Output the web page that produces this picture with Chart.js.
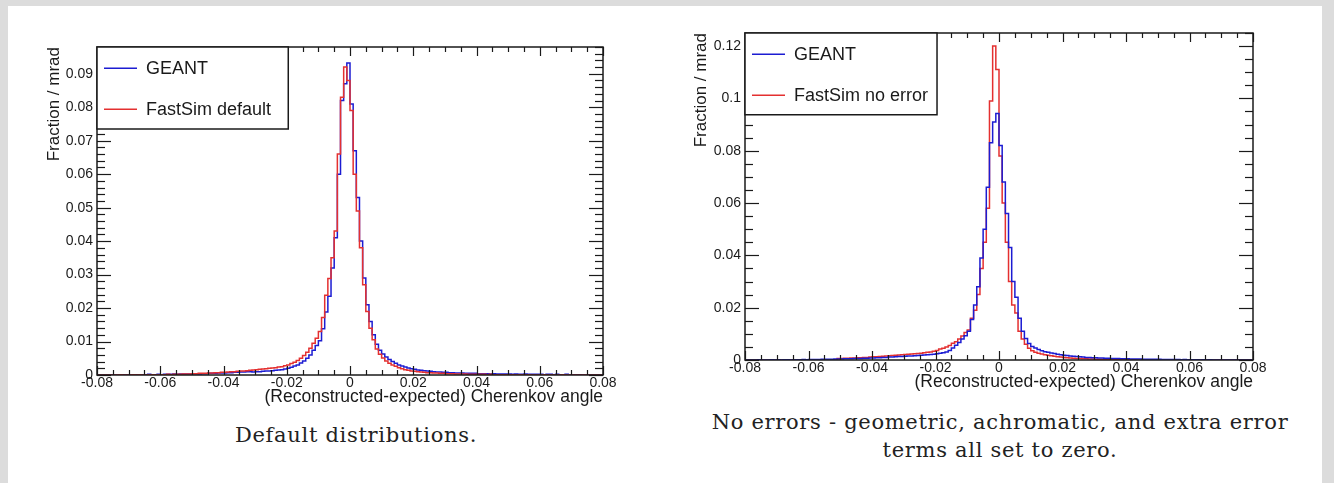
<!DOCTYPE html>
<html lang="en">
<head>
    <meta charset="UTF-8">
    <title>Cherenkov angle resolution: GEANT vs FastSim</title>
    <script src="https://cdn.jsdelivr.net/npm/chart.js"></script>
    <style>
        body {
            margin: 0;
            background: #dcdcdc;
            font-family: "Liberation Sans", Arial, sans-serif;
        }
        #page {
            position: absolute;
            left: 8px;
            top: 6px;
            width: 1314px;
            height: 477px;
            background: #fff;
        }
        canvas {
            position: absolute;
        }
        .caption {
            position: absolute;
            font-family: "DejaVu Serif", "Liberation Serif", serif;
            font-size: 21px;
            letter-spacing: 0.7px;
            color: #222;
            text-align: center;
            line-height: 28px;
            white-space: nowrap;
        }
    </style>
</head>
<body>
    <div id="page"></div>
    <canvas id="chartDefault" width="590" height="390" style="left:40px; top:30px;"></canvas>
    <canvas id="chartNoError" width="590" height="387" style="left:690px; top:18px;"></canvas>

    <div class="caption" style="left:206px; top:421px; width:300px;">Default distributions.</div>
    <div class="caption" style="left:700px; top:408px; width:600px;">No errors - geometric, achromatic, and extra error<br>terms all set to zero.</div>

    <script>
        // histogram binning: 160 bins of 0.001 from -0.08 to 0.08
        const xMin = -0.08;
        const binWidth = 0.001;

        // left pad: default distributions
        const geantDefault = [
            0, 0, 0, 0, 0, 0, 0.0001, 0, 0, 0.0001,
            0.0001, 0, 0.0001, 0.0001, 0, 0.0001, 0.0001, 0.0002, 0.0001, 0.0001,
            0.0002, 0.0001, 0.0002, 0.0002, 0.0002, 0.0003, 0.0002, 0.0003, 0.0003, 0.0003,
            0.0003, 0.0004, 0.0004, 0.0003, 0.0004, 0.0004, 0.0005, 0.0005, 0.0005, 0.0006,
            0.0006, 0.0006, 0.0007, 0.0007, 0.0008, 0.0008, 0.0009, 0.0009, 0.001, 0.001,
            0.0009, 0.001, 0.001, 0.0011, 0.0012, 0.0012, 0.0013, 0.0014, 0.0015, 0.0016,
            0.0018, 0.002, 0.0023, 0.0027, 0.003, 0.0036, 0.0042, 0.005, 0.006, 0.0074,
            0.0088, 0.0102, 0.0138, 0.0188, 0.0235, 0.032, 0.041, 0.060, 0.082, 0.087,
            0.0932, 0.081, 0.067, 0.053, 0.040, 0.029, 0.021, 0.016, 0.012, 0.0092,
            0.0074, 0.0063, 0.0054, 0.0046, 0.004, 0.0035, 0.003, 0.0027, 0.0024, 0.0021,
            0.0019, 0.0017, 0.0015, 0.0014, 0.0013, 0.0012, 0.0011, 0.001, 0.0009, 0.0009,
            0.0008, 0.0008, 0.0007, 0.0007, 0.0006, 0.0006, 0.0006, 0.0005, 0.0005, 0.0005,
            0.0005, 0.0004, 0.0004, 0.0004, 0.0004, 0.0003, 0.0004, 0.0003, 0.0003, 0.0003,
            0.0003, 0.0003, 0.0002, 0.0003, 0.0002, 0.0002, 0.0003, 0.0002, 0.0002, 0.0002,
            0.0002, 0.0002, 0.0001, 0.0002, 0.0002, 0.0001, 0.0002, 0.0001, 0.0001, 0.0002,
            0.0001, 0, 0.0001, 0.0001, 0, 0, 0.0001, 0, 0, 0
        ];
        const fastSimDefault = [
            0, 0, 0, 0, 0, 0, 0, 0, 0.0001, 0,
            0, 0, 0.0001, 0, 0.0001, 0, 0, 0.0001, 0.0001, 0,
            0.0001, 0.0001, 0.0001, 0.0002, 0.0001, 0.0002, 0.0002, 0.0002, 0.0003, 0.0003,
            0.0003, 0.0004, 0.0004, 0.0005, 0.0005, 0.0005, 0.0006, 0.0006, 0.0007, 0.0007,
            0.0008, 0.0008, 0.0009, 0.001, 0.001, 0.0011, 0.0012, 0.0012, 0.0013, 0.0014,
            0.0015, 0.0016, 0.0017, 0.0018, 0.0019, 0.002, 0.0021, 0.0022, 0.0024, 0.0025,
            0.0028, 0.003, 0.0034, 0.0038, 0.0043, 0.005, 0.0058, 0.0068, 0.008, 0.0095,
            0.011, 0.013, 0.0172, 0.0238, 0.0288, 0.035, 0.043, 0.066, 0.083, 0.092,
            0.088, 0.079, 0.060, 0.049, 0.038, 0.027, 0.019, 0.014, 0.0105, 0.0078,
            0.0062, 0.0051, 0.0042, 0.0035, 0.003, 0.0026, 0.0022, 0.0019, 0.0016, 0.0014,
            0.0012, 0.0011, 0.001, 0.0009, 0.0008, 0.0007, 0.0007, 0.0006, 0.0006, 0.0005,
            0.0005, 0.0004, 0.0004, 0.0004, 0.0003, 0.0003, 0.0003, 0.0003, 0.0002, 0.0002,
            0.0002, 0.0002, 0.0002, 0.0002, 0.0001, 0.0002, 0.0001, 0.0001, 0.0001, 0.0001,
            0.0001, 0.0001, 0.0001, 0, 0.0001, 0.0001, 0, 0.0001, 0, 0,
            0, 0, 0.0001, 0, 0, 0, 0, 0, 0.0001, 0,
            0, 0, 0, 0, 0, 0, 0, 0, 0, 0
        ];

        // right pad: all error terms set to zero
        const geantNoError = [
            0, 0, 0, 0, 0, 0.0001, 0, 0, 0, 0.0001,
            0, 0.0001, 0, 0.0001, 0.0001, 0, 0.0001, 0.0001, 0.0001, 0.0002,
            0.0001, 0.0002, 0.0002, 0.0002, 0.0002, 0.0003, 0.0003, 0.0003, 0.0003, 0.0004,
            0.0004, 0.0004, 0.0005, 0.0005, 0.0005, 0.0006, 0.0006, 0.0006, 0.0007, 0.0007,
            0.0008, 0.0008, 0.0009, 0.0009, 0.001, 0.001, 0.0011, 0.0011, 0.0012, 0.0013,
            0.0013, 0.0014, 0.0015, 0.0015, 0.0016, 0.0017, 0.0018, 0.0019, 0.002, 0.0021,
            0.0022, 0.0024, 0.0026, 0.0028, 0.0031, 0.0036, 0.0046, 0.0056, 0.0067, 0.008,
            0.0093, 0.011, 0.0155, 0.021, 0.028, 0.039, 0.050, 0.066, 0.083, 0.091,
            0.0942, 0.082, 0.068, 0.056, 0.043, 0.030, 0.024, 0.016, 0.011, 0.0082,
            0.0063, 0.0052, 0.0046, 0.004, 0.0035, 0.0032, 0.003, 0.0027, 0.0025, 0.0022,
            0.002, 0.0018, 0.0017, 0.0015, 0.0014, 0.0013, 0.0012, 0.0011, 0.001, 0.001,
            0.0009, 0.0009, 0.0008, 0.0008, 0.0007, 0.0007, 0.0006, 0.0006, 0.0006, 0.0005,
            0.0005, 0.0005, 0.0004, 0.0004, 0.0004, 0.0004, 0.0003, 0.0003, 0.0003, 0.0003,
            0.0003, 0.0003, 0.0002, 0.0002, 0.0002, 0.0002, 0.0002, 0.0002, 0.0001, 0.0002,
            0.0001, 0.0001, 0.0001, 0.0001, 0, 0.0001, 0, 0.0001, 0, 0,
            0, 0, 0, 0, 0, 0, 0, 0, 0, 0
        ];
        const fastSimNoError = [
            0, 0, 0, 0, 0, 0, 0, 0, 0, 0,
            0, 0, 0, 0, 0, 0, 0, 0, 0, 0,
            0, 0, 0, 0, 0, 0, 0, 0, 0, 0,
            0.0006, 0.0006, 0.0007, 0.0007, 0.0008, 0.0008, 0.0009, 0.0009, 0.001, 0.001,
            0.0011, 0.0012, 0.0012, 0.0013, 0.0014, 0.0015, 0.0016, 0.0017, 0.0018, 0.0019,
            0.002, 0.0021, 0.0022, 0.0023, 0.0024, 0.0025, 0.0026, 0.0028, 0.003, 0.0031,
            0.0033, 0.0036, 0.0042, 0.0045, 0.005, 0.0055, 0.0064, 0.007, 0.008, 0.0092,
            0.0105, 0.0115, 0.016, 0.019, 0.025, 0.035, 0.045, 0.058, 0.099, 0.120,
            0.111, 0.078, 0.060, 0.045, 0.030, 0.021, 0.018, 0.011, 0.008, 0.006,
            0.0045, 0.0035, 0.003, 0.0026, 0.0023, 0.002, 0.0018, 0.0016, 0.0014, 0.0012,
            0.0011, 0.001, 0.0009, 0.0008, 0.0007, 0.0006, 0.0006, 0.0005, 0.0005, 0.0004,
            0.0004, 0.0003, 0.0003, 0.0003, 0.0002, 0.0002, 0.0002, 0.0001, 0.0001, 0.0001,
            0.0001, 0.0001, 0, 0.0001, 0, 0, 0, 0, 0, 0,
            0, 0, 0, 0, 0, 0, 0, 0, 0, 0,
            0, 0, 0, 0, 0, 0, 0, 0, 0, 0,
            0, 0, 0, 0, 0, 0, 0, 0, 0, 0
        ];

        const blue = 'rgb(28, 28, 210)';
        const red = 'rgb(228, 48, 48)';
        const ink = '#1a1a1a';
        const sans = '"Liberation Sans", Arial, sans-serif';
        const tickFont = { family: sans, size: 14 };

        // histogram -> step points at the bin edges
        function toSteps(values) {
            const pts = values.map((v, i) => ({ x: xMin + i * binWidth, y: v }));
            pts.push({ x: xMin + values.length * binWidth, y: values[values.length - 1] });
            return pts;
        }

        function fmt(v) {
            return String(+v.toFixed(3));
        }

        // ROOT style frame: ticks inside on all four sides, plus the boxed legend
        const rootFrame = {
            id: 'rootFrame',
            afterDraw(chart, args, opts) {
                const { ctx, chartArea: a, scales: { x, y } } = chart;
                ctx.save();
                ctx.strokeStyle = ink;
                ctx.lineWidth = 1.2;

                const line = (x1, y1, x2, y2) => {
                    ctx.beginPath();
                    ctx.moveTo(x1, y1);
                    ctx.lineTo(x2, y2);
                    ctx.stroke();
                };

                let n = Math.round((x.max - x.min) / opts.xMinor);
                for (let i = 0; i <= n; i++) {
                    const v = x.min + i * opts.xMinor;
                    const r = v / opts.xMajor;
                    const len = Math.abs(r - Math.round(r)) < 1e-6 ? 9 : 5;
                    const px = Math.round(x.getPixelForValue(v)) + 0.5;
                    line(px, a.bottom, px, a.bottom - len);
                    line(px, a.top, px, a.top + len);
                }
                n = Math.floor((y.max - y.min) / opts.yMinor + 1e-6);
                for (let i = 0; i <= n; i++) {
                    const v = y.min + i * opts.yMinor;
                    const r = v / opts.yMajor;
                    const len = Math.abs(r - Math.round(r)) < 1e-6 ? 14 : 8;
                    const py = Math.round(y.getPixelForValue(v)) + 0.5;
                    line(a.left, py, a.left + len, py);
                    line(a.right, py, a.right - len, py);
                }

                ctx.lineWidth = 1.5;
                ctx.strokeRect(a.left, a.top, a.width, a.height);

                // legend box in the top-left corner
                const w = a.width * 0.378;
                const h = a.height * 0.25;
                ctx.fillStyle = '#fff';
                ctx.fillRect(a.left, a.top, w, h);
                ctx.strokeRect(a.left, a.top, w, h);
                ctx.font = '18px ' + sans;
                ctx.textBaseline = 'middle';
                chart.data.datasets.forEach((ds, i) => {
                    const ly = a.top + h * (0.26 + 0.5 * i);
                    ctx.strokeStyle = ds.borderColor;
                    ctx.lineWidth = 1.5;
                    line(a.left + 7, ly, a.left + 40, ly);
                    ctx.fillStyle = ink;
                    ctx.fillText(ds.label, a.left + 49, ly + 1);
                });
                ctx.restore();
            }
        };

        function makeChart(id, fastSim, geant, fastLabel, cfg) {
            const ctx = document.getElementById(id).getContext('2d');
            return new Chart(ctx, {
                type: 'line',
                data: {
                    datasets: [
                        {
                            label: 'GEANT',
                            data: toSteps(geant),
                            borderColor: blue,
                            order: cfg.geantOnTop ? 0 : 1
                        },
                        {
                            label: fastLabel,
                            data: toSteps(fastSim),
                            borderColor: red,
                            order: cfg.geantOnTop ? 1 : 0
                        }
                    ]
                },
                options: {
                    responsive: false,
                    animation: false,
                    devicePixelRatio: 1,
                    layout: { padding: { top: cfg.padTop, right: 27, left: 0, bottom: 0 } },
                    elements: {
                        line: { borderWidth: 1.5, stepped: 'after', tension: 0, fill: false },
                        point: { radius: 0 }
                    },
                    plugins: {
                        legend: { display: false },
                        tooltip: { enabled: false },
                        rootFrame: cfg.frame
                    },
                    scales: {
                        x: {
                            type: 'linear',
                            min: -0.08,
                            max: 0.08,
                            grid: { display: false, drawTicks: false },
                            border: { display: false },
                            ticks: {
                                stepSize: 0.02,
                                autoSkip: false,
                                maxRotation: 0,
                                padding: 0,
                                color: ink,
                                font: tickFont,
                                callback: fmt
                            },
                            title: {
                                display: true,
                                text: '(Reconstructed-expected) Cherenkov angle',
                                align: 'end',
                                color: ink,
                                font: { family: sans, size: 17.5 },
                                padding: { top: 0, bottom: 12 }
                            },
                            afterFit: s => { s.height = 45; }
                        },
                        y: {
                            min: 0,
                            max: cfg.yMax,
                            grid: { display: false, drawTicks: false },
                            border: { display: false },
                            ticks: {
                                stepSize: cfg.frame.yMajor,
                                includeBounds: false,
                                autoSkip: false,
                                padding: 4,
                                color: ink,
                                font: tickFont,
                                callback: fmt
                            },
                            title: {
                                display: true,
                                text: 'Fraction / mrad',
                                align: 'end',
                                color: ink,
                                font: { family: sans, size: 17 },
                                padding: { top: cfg.titlePad, bottom: 0 }
                            },
                            afterFit: s => { s.width = cfg.yWidth; }
                        }
                    }
                },
                plugins: [rootFrame]
            });
        }

        makeChart('chartDefault', fastSimDefault, geantDefault, 'FastSim default', {
            yMax: 0.098, padTop: 17, yWidth: 57, titlePad: 4, geantOnTop: false,
            frame: { xMajor: 0.02, xMinor: 0.005, yMajor: 0.01, yMinor: 0.002 }
        });
        makeChart('chartNoError', fastSimNoError, geantNoError, 'FastSim no error', {
            yMax: 0.125, padTop: 15, yWidth: 55, titlePad: 1, geantOnTop: true,
            frame: { xMajor: 0.02, xMinor: 0.005, yMajor: 0.02, yMinor: 0.005 }
        });
    </script>
</body>
</html>
